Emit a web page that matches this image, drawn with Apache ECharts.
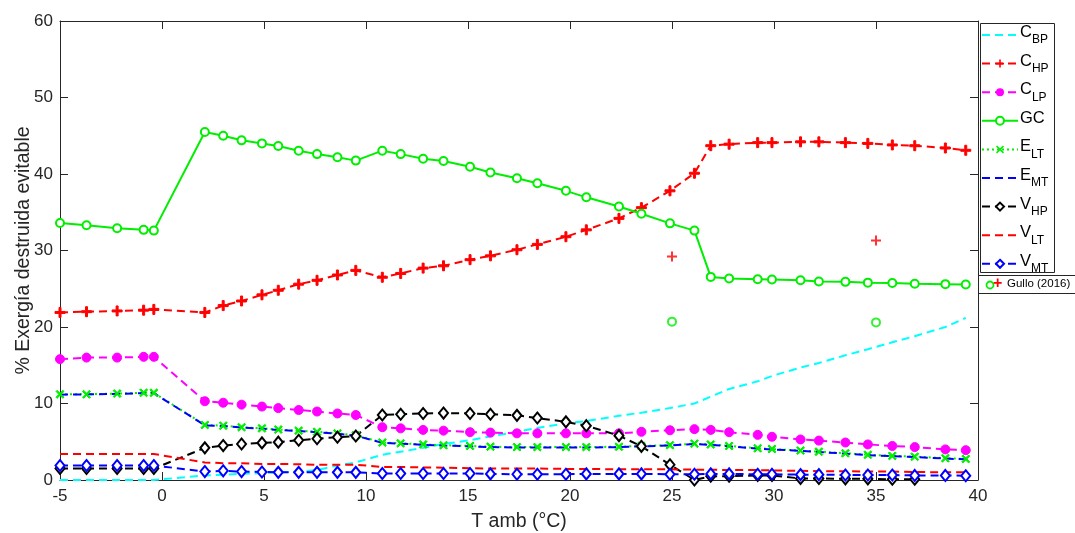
<!DOCTYPE html>
<html>
<head>
<meta charset="utf-8">
<script src="https://cdn.jsdelivr.net/npm/echarts@6/dist/echarts.min.js"></script>
<style>
html,body{margin:0;padding:0;background:#fff;}
#c{width:1075px;height:533px;}
</style>
</head>
<body>
<div id="c"></div>
<script>
// Temperatures (°C)
const tAmb = [-5, -3.7, -2.2, -0.9, -0.4, 2.1, 3.0, 3.9, 4.9, 5.7, 6.7, 7.6, 8.6, 9.5, 10.8, 11.7, 12.8, 13.8, 15.1, 16.1, 17.4, 18.4, 19.8, 20.8, 22.4, 23.5, 24.9, 26.1, 26.9, 27.8, 29.2, 29.9, 31.3, 32.2, 33.5, 34.6, 35.8, 36.9, 38.4, 39.4];
const cBP = [0, 0, 0, 0, 0, 0.6, 0.7, 0.8, 0.9, 1.0, 1.1, 1.3, 1.9, 2.3, 3.3, 3.7, 4.2, 4.7, 5.2, 5.7, 6.3, 6.8, 7.4, 7.7, 8.4, 8.8, 9.4, 10.0, 10.9, 11.9, 12.9, 13.6, 14.7, 15.3, 16.3, 17.1, 18.0, 18.8, 20.0, 21.2];
const cHP = [21.9, 22.0, 22.1, 22.2, 22.3, 21.9, 22.8, 23.4, 24.2, 24.8, 25.6, 26.1, 26.8, 27.4, 26.5, 27.0, 27.7, 28.0, 28.8, 29.3, 30.1, 30.8, 31.8, 32.7, 34.2, 35.6, 37.8, 40.1, 43.7, 43.9, 44.1, 44.1, 44.2, 44.2, 44.1, 44.0, 43.8, 43.7, 43.4, 43.1];
const cLP = [15.8, 16.0, 16.0, 16.1, 16.1, 10.3, 10.1, 9.85, 9.6, 9.4, 9.15, 8.95, 8.7, 8.5, 6.9, 6.75, 6.55, 6.45, 6.25, 6.2, 6.1, 6.1, 6.1, 6.1, 6.1, 6.3, 6.5, 6.65, 6.55, 6.25, 5.9, 5.65, 5.3, 5.15, 4.9, 4.65, 4.45, 4.3, 4.0, 3.9];
const gc = [33.6, 33.3, 32.9, 32.7, 32.6, 45.5, 45.0, 44.4, 44.0, 43.65, 43.05, 42.6, 42.2, 41.75, 43.05, 42.6, 42.0, 41.7, 40.95, 40.2, 39.45, 38.8, 37.8, 36.95, 35.75, 34.8, 33.55, 32.6, 26.55, 26.35, 26.25, 26.2, 26.1, 25.95, 25.9, 25.8, 25.75, 25.65, 25.6, 25.55];
const eLT = [11.2, 11.2, 11.3, 11.4, 11.4, 7.2, 7.1, 6.9, 6.75, 6.6, 6.45, 6.3, 6.1, 5.85, 4.9, 4.8, 4.65, 4.55, 4.45, 4.35, 4.3, 4.3, 4.3, 4.3, 4.35, 4.45, 4.55, 4.75, 4.65, 4.45, 4.15, 4.05, 3.85, 3.7, 3.5, 3.3, 3.15, 3.05, 2.85, 2.75];
const eMT = [11.15, 11.2, 11.25, 11.35, 11.35, 7.15, 7.05, 6.85, 6.7, 6.55, 6.4, 6.25, 6.05, 5.8, 4.85, 4.75, 4.6, 4.5, 4.4, 4.3, 4.25, 4.25, 4.25, 4.25, 4.3, 4.4, 4.5, 4.7, 4.6, 4.4, 4.1, 4.0, 3.8, 3.65, 3.45, 3.25, 3.1, 3.0, 2.8, 2.7];
const vHP = [1.5, 1.5, 1.5, 1.5, 1.5, 4.2, 4.5, 4.7, 4.85, 4.95, 5.2, 5.4, 5.6, 5.75, 8.5, 8.6, 8.7, 8.75, 8.7, 8.6, 8.45, 8.1, 7.6, 7.1, 5.8, 4.4, 2.0, 0.0, 0.5, 0.5, 0.6, 0.6, 0.2, 0.2, 0.15, 0.15, 0.1, 0.1, null, null];
const vLT = [3.4, 3.4, 3.4, 3.4, 3.4, 2.3, 2.2, 2.2, 2.1, 2.1, 2.05, 2.0, 2.0, 2.0, 1.7, 1.7, 1.65, 1.6, 1.55, 1.5, 1.5, 1.5, 1.45, 1.45, 1.4, 1.4, 1.4, 1.35, 1.35, 1.3, 1.3, 1.25, 1.2, 1.15, 1.15, 1.1, 1.1, 1.05, 1.0, 1.0];
const vMT = [1.9, 1.9, 1.9, 1.9, 1.9, 1.1, 1.2, 1.1, 1.05, 1.0, 1.0, 1.0, 1.0, 1.0, 0.85, 0.85, 0.85, 0.85, 0.85, 0.8, 0.75, 0.75, 0.75, 0.8, 0.8, 0.8, 0.75, 0.75, 0.8, 0.8, 0.75, 0.75, 0.7, 0.7, 0.65, 0.65, 0.65, 0.6, 0.6, 0.55];
// Gullo (2016) reference points
const gulloT = [25, 35];
const gulloGC = [20.7, 20.6];
const gulloCHP = [29.2, 31.3];
// Axis ticks
const xTicks = [-5, 0, 5, 10, 15, 20, 25, 30, 35, 40];
const yTicks = [0, 10, 20, 30, 40, 50, 60];

const legendLabels = {
  CBP: ['C', 'BP'], CHP: ['C', 'HP'], CLP: ['C', 'LP'], GC: ['GC', ''],
  ELT: ['E', 'LT'], EMT: ['E', 'MT'], VHP: ['V', 'HP'], VLT: ['V', 'LT'], VMT: ['V', 'MT']
};
const noMarker = ['CBP', 'EMT', 'VLT'];

const pair = (ys, xs) => (xs || tAmb).map((x, i) => [x, ys[i]]);
const plusPath = 'path://M4,0H6V4H10V6H6V10H4V6H0V4H4Z';
const xPath = 'path://M1.4,0L5,3.6L8.6,0L10,1.4L6.4,5L10,8.6L8.6,10L5,6.4L1.4,10L0,8.6L3.6,5L0,1.4Z';
const dash = [8, 5];

function lineSeries(name, ys, color, type, symbol, symbolSize, extra) {
  return Object.assign({
    name: name, type: 'line', data: pair(ys),
    lineStyle: {color: color, width: 2, type: type},
    itemStyle: {color: color, borderColor: color},
    symbol: symbol || 'none', symbolSize: symbolSize || 8,
    showSymbol: !!symbol, connectNulls: false, clip: true,
    emphasis: {disabled: true}
  }, extra || {});
}

const axisColor = '#262626';
const chart = echarts.init(document.getElementById('c'), null, {renderer: 'canvas'});
const option = {
  animation: false,
  backgroundColor: '#ffffff',
  grid: {left: 60, right: 97, top: 21, bottom: 53, containLabel: false, outerBoundsMode: 'none'},
  xAxis: [{
    type: 'value', min: xTicks[0], max: xTicks[xTicks.length - 1], interval: 5,
    name: 'T amb (°C)', nameLocation: 'middle', nameGap: 32, nameMoveOverlap: false,
    nameTextStyle: {fontFamily: 'Liberation Sans', fontSize: 19.5, color: axisColor},
    axisLine: {onZero: false, lineStyle: {color: axisColor, width: 1}},
    axisTick: {inside: true, length: 8, lineStyle: {color: axisColor}},
    axisLabel: {fontFamily: 'Liberation Sans', fontSize: 17, color: axisColor, margin: 8},
    splitLine: {show: false}
  }, {
    type: 'value', position: 'top', min: xTicks[0], max: xTicks[xTicks.length - 1], interval: 5,
    axisLine: {onZero: false, lineStyle: {color: axisColor, width: 1}},
    axisTick: {inside: true, length: 8, lineStyle: {color: axisColor}},
    axisLabel: {show: false}, splitLine: {show: false}
  }],
  yAxis: [{
    type: 'value', min: yTicks[0], max: yTicks[yTicks.length - 1], interval: 10,
    name: '% Exergía destruida evitable', nameLocation: 'middle', nameGap: 26, nameRotate: 90, nameMoveOverlap: false,
    nameTextStyle: {fontFamily: 'Liberation Sans', fontSize: 19.5, color: axisColor},
    axisLine: {onZero: false, lineStyle: {color: axisColor, width: 1}},
    axisTick: {inside: true, length: 8, lineStyle: {color: axisColor}},
    axisLabel: {fontFamily: 'Liberation Sans', fontSize: 17, color: axisColor, margin: 7},
    splitLine: {show: false}
  }, {
    type: 'value', position: 'right', min: yTicks[0], max: yTicks[yTicks.length - 1], interval: 10,
    axisLine: {onZero: false, lineStyle: {color: axisColor, width: 1}},
    axisTick: {inside: true, length: 8, lineStyle: {color: axisColor}},
    axisLabel: {show: false}, splitLine: {show: false}
  }],
  legend: {
    orient: 'vertical', left: 981, top: 24,
    itemWidth: 36, itemHeight: 10, itemGap: 5.6,
    padding: 0,
    data: ['CBP', 'CHP', 'CLP', 'GC', 'ELT', 'EMT', 'VHP', 'VLT', 'VMT'].map(n =>
      noMarker.indexOf(n) >= 0 ? {name: n, itemStyle: {opacity: 0}} : {name: n}),
    formatter: function (n) {
      const l = legendLabels[n];
      return l[1] ? '{m|' + l[0] + '}{s|' + l[1] + '}' : '{m|' + l[0] + '}';
    },
    textStyle: {
      padding: [0, 0, 0, -3],
      rich: {
        m: {fontFamily: 'Liberation Sans', fontSize: 16.5, color: '#000', lineHeight: 22, verticalAlign: 'top', padding: [0, 0, 6, 0]},
        s: {fontFamily: 'Liberation Sans', fontSize: 12, color: '#000', lineHeight: 22, verticalAlign: 'bottom', padding: [10, 0, 0, 0]}
      }
    },
    selectedMode: false
  },
  graphic: [
    {type: 'rect', left: 978, top: 21, shape: {width: 74, height: 249}, style: {fill: 'none', stroke: '#262626', lineWidth: 1}, z: 0},
    {type: 'rect', left: 978, top: 275, shape: {width: 110, height: 18}, style: {fill: '#fff', stroke: '#262626', lineWidth: 1}, z: 0},
    {type: 'circle', shape: {cx: 990, cy: 285, r: 3.5}, style: {fill: 'none', stroke: '#00ee00', lineWidth: 1.8}},
    {type: 'text', left: 993, top: 276, style: {text: '+', fill: '#ff0000', font: 'bold 16px Liberation Sans'}},
    {type: 'text', left: 1007, top: 278, style: {text: 'Gullo (2016)', fill: '#000', font: '11.5px Liberation Sans'}}
  ],
  series: [
    lineSeries('CBP', cBP, '#00ffff', dash),
    lineSeries('CHP', cHP, '#ff0000', dash, plusPath, 10),
    lineSeries('CLP', cLP, '#ff00ff', dash, 'circle', 9),
    lineSeries('GC', gc, '#00ee00', 'solid', 'emptyCircle', 8, {itemStyle: {color: '#00ee00', borderColor: '#00ee00', borderWidth: 1.8}}),
    lineSeries('ELT', eLT, '#00ee00', [2, 3], xPath, 8),
    lineSeries('EMT', eMT, '#0000ff', dash),
    lineSeries('VHP', vHP, '#000000', dash, 'emptyDiamond', [9, 11], {itemStyle: {color: '#000', borderColor: '#000', borderWidth: 1.8}}),
    lineSeries('VLT', vLT, '#ff0000', dash),
    lineSeries('VMT', vMT, '#0000ff', dash, 'emptyDiamond', [9, 11], {itemStyle: {color: '#0000ff', borderColor: '#0000ff', borderWidth: 1.8}}),
    {name: 'Gullo (2016)', type: 'scatter', data: pair(gulloGC, gulloT), symbol: 'emptyCircle', symbolSize: 8,
      itemStyle: {color: '#00ee00', borderColor: '#00ee00', borderWidth: 1.8}, emphasis: {disabled: true}},
    {name: 'Gullo (2016) ', type: 'scatter', data: pair(gulloCHP, gulloT), symbol: plusPath, symbolSize: 10,
      itemStyle: {color: '#ff0000'}, emphasis: {disabled: true}}
  ]
};
chart.setOption(option);
</script>
</body>
</html>
